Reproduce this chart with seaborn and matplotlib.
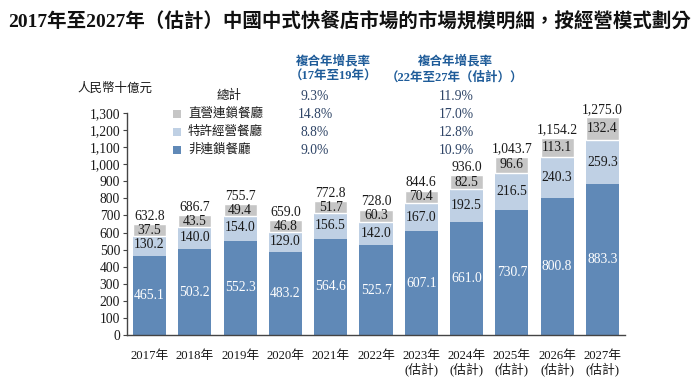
import matplotlib
matplotlib.use("Agg")
import matplotlib.pyplot as plt
import seaborn as sns
import pandas as pd
import numpy as np
from matplotlib.patches import Rectangle

years = ["2017年", "2018年", "2019年", "2020年", "2021年", "2022年",
         "2023年\n(估計)", "2024年\n(估計)", "2025年\n(估計)",
         "2026年\n(估計)", "2027年\n(估計)"]
non_chain = [465.1, 503.2, 552.3, 483.2, 564.6, 525.7, 607.1, 661.0, 730.7, 800.8, 883.3]
franchise = [130.2, 140.0, 154.0, 129.0, 156.5, 142.0, 167.0, 192.5, 216.5, 240.3, 259.3]
direct = [37.5, 43.5, 49.4, 46.8, 51.7, 60.3, 70.4, 82.5, 96.6, 113.1, 132.4]
totals = [632.8, 686.7, 755.7, 659.0, 772.8, 728.0, 844.6, 936.0, 1043.7, 1154.2, 1275.0]

series_names = ["總計", "直營連鎖餐廳", "特許經營餐廳", "非連鎖餐廳"]
cagr_17_19 = ["9.3%", "14.8%", "8.8%", "9.0%"]
cagr_22_27 = ["11.9%", "17.0%", "12.8%", "10.9%"]
cagr_headers = [("複合年增長率", "（17年至19年）"), ("複合年增長率", "（22年至27年（估計））")]
unit_label = "人民幣十億元"
title = "2017年至2027年（估計）中國中式快餐店市場的市場規模明細，按經營模式劃分"

C_DARK = "#6089b7"
C_LIGHT = "#bfd0e4"
C_GRAY = "#c6c6c6"
HEAD_BLUE = "#1f5c99"
VAL_NAVY = "#2e4466"

sns.set_theme(style="white")
FAM = ["Liberation Serif", "Noto Sans CJK TC"]
plt.rcParams["font.family"] = FAM
plt.rcParams["axes.unicode_minus"] = False

W, H = 700, 379
fig = plt.figure(figsize=(7.0, 3.79), dpi=100)

def fx(x):
    return x / W

def fy(y):
    return 1 - y / H

ax = fig.add_axes([fx(127), fy(335), fx(625) - fx(127), (335 - 113) / H])

df = pd.DataFrame({"year": years, "non": non_chain, "fr": franchise, "dir": direct,
                   "total": totals})
df["cum2"] = df["non"] + df["fr"]
df["cum3"] = df["cum2"] + df["dir"]

bw = 0.73
sns.barplot(data=df, x="year", y="cum3", color=C_GRAY, width=bw, saturation=1,
            ax=ax, edgecolor="none")
sns.barplot(data=df, x="year", y="cum2", color=C_LIGHT, width=bw, saturation=1,
            ax=ax, edgecolor="none")

# gray label boxes for the direct-chain segment
xs = np.arange(len(years))
mid_gray = df["cum2"] + df["dir"] / 2
box_h = np.maximum(df["dir"].values, 70)
ax.bar(xs, box_h, bottom=mid_gray - box_h / 2, width=bw, color=C_GRAY, zorder=2)

sns.barplot(data=df, x="year", y="non", color=C_DARK, width=bw, saturation=1,
            ax=ax, edgecolor="none")
for p in ax.patches:
    p.set_zorder(2)

fs = 9.8
for i in range(len(years)):
    ax.text(i, non_chain[i] / 2, f"{non_chain[i]:.1f}", ha="center", va="center",
            color="white", fontsize=fs, zorder=5)
    ax.text(i, non_chain[i] + franchise[i] / 2, f"{franchise[i]:.1f}", ha="center",
            va="center", color="#1a1a1a", fontsize=fs, zorder=5)
    ax.text(i, mid_gray[i], f"{direct[i]:.1f}", ha="center", va="center",
            color="#1a1a1a", fontsize=fs, zorder=5)
    top = max(totals[i], mid_gray[i] + box_h[i] / 2)
    ax.annotate(f"{totals[i]:,.1f}", (i, top), xytext=(0, 1.0),
                textcoords="offset points", ha="center", va="bottom",
                color="#1a1a1a", fontsize=fs, zorder=5)

ax.set_xlim(-0.5, len(years) - 0.5)
ax.set_ylim(0, 1300)
ax.set_yticks(np.arange(0, 1301, 100))
ax.set_yticklabels([f"{v:,}" for v in range(0, 1301, 100)], fontsize=fs, color="#1a1a1a")
ax.set_xticks(xs)
ax.set_xticklabels(years, fontsize=9.2, color="#1a1a1a", linespacing=1.05)
ax.set_xlabel("")
ax.set_ylabel("")
for s in ["top", "right"]:
    ax.spines[s].set_visible(False)
for s in ["left", "bottom"]:
    ax.spines[s].set_color("#444444")
    ax.spines[s].set_linewidth(1.0)
ax.tick_params(axis="y", which="both", left=True, length=3, width=0.8,
               color="#444444", pad=2)
ax.tick_params(axis="x", bottom=False, pad=5)
ax.grid(False)

# title
fig.text(0.5, fy(22), title, ha="center", va="center", fontsize=14,
         fontweight="bold", color="#111111", family=FAM)
# unit
fig.text(fx(77), fy(89), unit_label, ha="left", va="center", fontsize=9,
         color="#1a1a1a")

# legend and CAGR table
rows_y = [96, 114, 132, 150]
colors = [None, C_GRAY, C_LIGHT, C_DARK]
for k, name in enumerate(series_names):
    y = rows_y[k]
    if colors[k] is None:
        fig.text(fx(229), fy(y), name, ha="center", va="center", fontsize=9,
                 color="#1a1a1a")
    else:
        fig.add_artist(Rectangle((fx(173), fy(y + 4)), fx(8), 8 / H,
                                 transform=fig.transFigure, color=colors[k],
                                 linewidth=0))
        fig.text(fx(188), fy(y), name, ha="left", va="center", fontsize=9,
                 color="#1a1a1a")
    fig.text(fx(315), fy(y), cagr_17_19[k], ha="center", va="center", fontsize=fs,
             color=VAL_NAVY)
    fig.text(fx(456), fy(y), cagr_22_27[k], ha="center", va="center", fontsize=fs,
             color=VAL_NAVY)

for cx, (l1, l2) in zip([333, 455], cagr_headers):
    fig.text(fx(cx), fy(61), l1, ha="center", va="center", fontsize=9,
             fontweight="bold", color=HEAD_BLUE)
    fig.text(fx(cx), fy(77), l2, ha="center", va="center", fontsize=9,
             fontweight="bold", color=HEAD_BLUE)

fig.savefig("out.png", dpi=100, facecolor="white")
